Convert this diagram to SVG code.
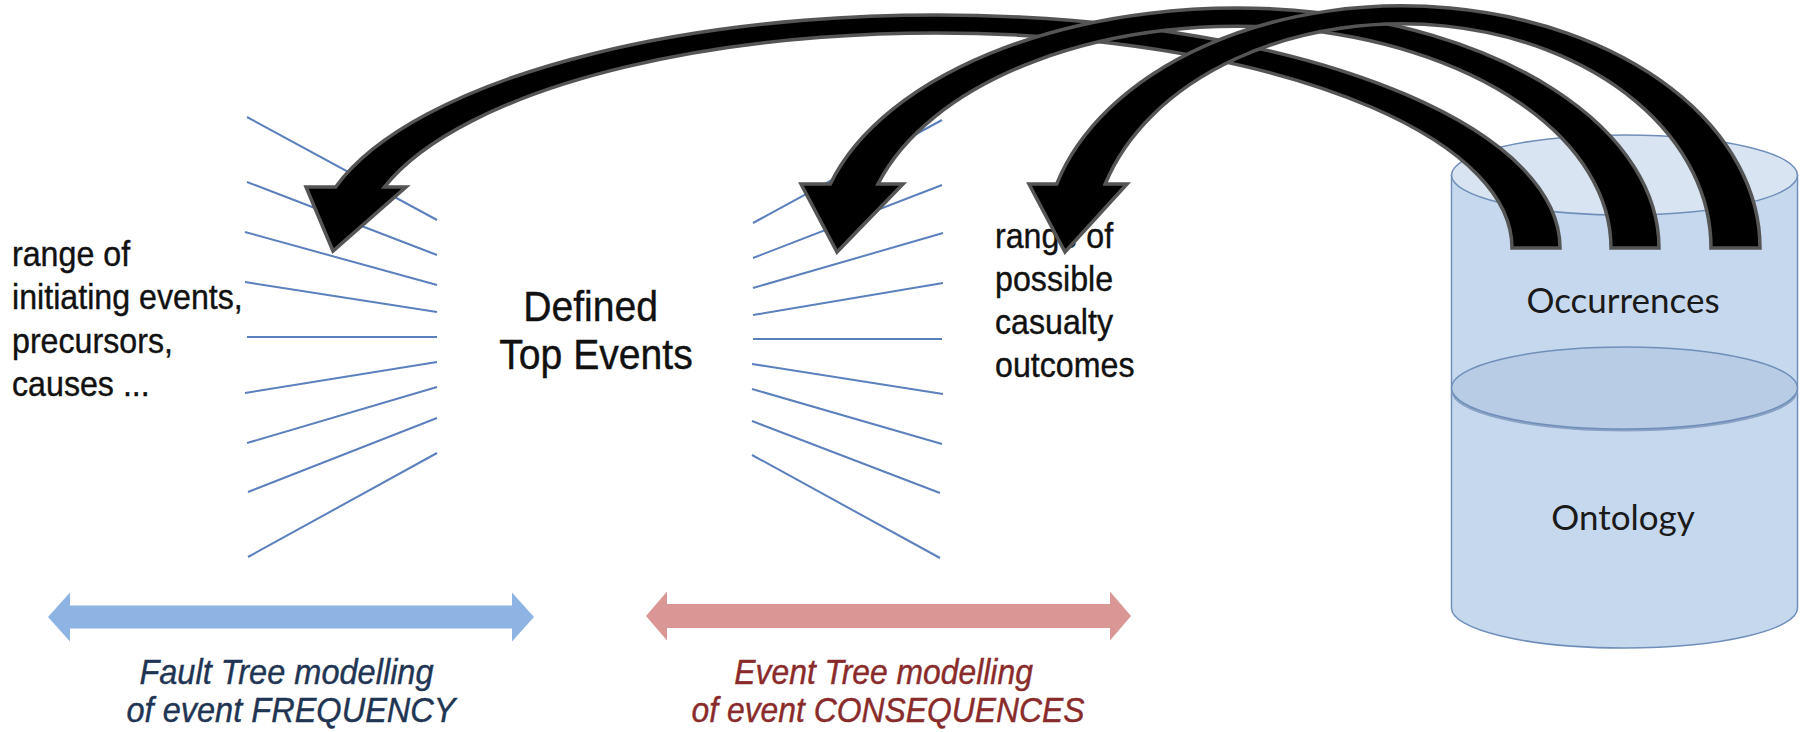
<svg xmlns="http://www.w3.org/2000/svg" width="1808" height="732" viewBox="0 0 1808 732">
  <style>
    .fan line { stroke:#5b80bd; stroke-width:2; }
    .lbl { font-family:"Liberation Sans", Arial, sans-serif; font-size:35px; fill:#111; stroke:#111; stroke-width:0.4; }
    .big { font-family:"Liberation Sans", Arial, sans-serif; font-size:43px; fill:#111; stroke:#111; stroke-width:0.4; }
    .cap { font-family:"Liberation Sans", Arial, sans-serif; font-size:35px; font-style:italic; stroke-width:0.4; }
    .db { font-family:Lato, "Open Sans", sans-serif; font-size:35px; fill:#1a1a1a; }
    .cyl { stroke:#6f8fba; stroke-width:1.5; }
    .blk { fill:#000; stroke:#555; stroke-width:3.5; stroke-linejoin:miter; }
  </style>
  <rect width="1808" height="732" fill="#fff"/>

  <g id="fault-fan" class="fan">
    <line x1="247" y1="117" x2="437" y2="220"/>
    <line x1="247" y1="182" x2="437" y2="255"/>
    <line x1="245" y1="232" x2="437" y2="285"/>
    <line x1="245" y1="282" x2="437" y2="312"/>
    <line x1="247" y1="337" x2="437" y2="337"/>
    <line x1="245" y1="393" x2="437" y2="362"/>
    <line x1="247" y1="443" x2="437" y2="387"/>
    <line x1="248" y1="492" x2="437" y2="418"/>
    <line x1="248" y1="557" x2="437" y2="453"/>
  </g>

  <g id="event-fan" class="fan">
    <line x1="753" y1="223" x2="942" y2="120"/>
    <line x1="753" y1="258" x2="942" y2="185"/>
    <line x1="753" y1="288" x2="943" y2="233"/>
    <line x1="753" y1="315" x2="943" y2="283"/>
    <line x1="753" y1="339" x2="942" y2="339"/>
    <line x1="752" y1="364" x2="943" y2="394"/>
    <line x1="752" y1="389" x2="942" y2="444"/>
    <line x1="752" y1="421" x2="940" y2="493"/>
    <line x1="752" y1="455" x2="940" y2="558"/>
  </g>

  <g id="initiating-events">
    <text class="lbl" transform="translate(12,0) scale(0.92,1)">
      <tspan x="0" y="266">range of</tspan>
      <tspan x="0" y="309">initiating events,</tspan>
      <tspan x="0" y="353">precursors,</tspan>
      <tspan x="0" y="396">causes ...</tspan>
    </text>
  </g>

  <g id="top-events">
    <text class="big" text-anchor="middle" transform="translate(596,0) scale(0.91,1)">
      <tspan x="0" y="321">Defined</tspan>
      <tspan x="0" y="369">Top Events</tspan>
    </text>
  </g>

  <g id="outcomes">
    <text class="lbl" transform="translate(995,0) scale(0.92,1)">
      <tspan x="0" y="248">range of</tspan>
      <tspan x="0" y="291">possible</tspan>
      <tspan x="0" y="334">casualty</tspan>
      <tspan x="0" y="377">outcomes</tspan>
    </text>
  </g>

  <g id="fault-tree">
    <polygon fill="#8eb4e3" points="48,617 70,592.5 70,605.5 512,605.5 512,592.5 534,617 512,641.5 512,628.5 70,628.5 70,641.5"/>
    <text class="cap" fill="#1f3553" stroke="#1f3553" text-anchor="middle" transform="translate(291,0) scale(0.93,1)">
      <tspan x="0" y="684">Fault Tree modelling</tspan>
      <tspan x="0" y="722">of event FREQUENCY</tspan>
    </text>
  </g>

  <g id="event-tree">
    <polygon fill="#d99694" points="646,616 667,591.5 667,604 1110,604 1110,591.5 1131,616 1110,640.5 1110,628 667,628 667,640.5"/>
    <text class="cap" fill="#8a2b2b" stroke="#8a2b2b" text-anchor="middle" transform="translate(888,0) scale(0.91,1)">
      <tspan x="0" y="684">Event Tree modelling</tspan>
      <tspan x="0" y="722">of event CONSEQUENCES</tspan>
    </text>
  </g>

  <g id="database">
    <path class="cyl" fill="#c6d8ee" d="M1451.5,175 L1451.5,608 A173,40 0 0 0 1797.5,608 L1797.5,175 Z"/>
    <ellipse class="cyl" fill="#d9e4f2" cx="1624.5" cy="175" rx="173" ry="40"/>
    <ellipse fill="none" stroke="#8aa3c4" stroke-width="3" cx="1624.5" cy="390" rx="172" ry="40"/>
    <ellipse class="cyl" fill="#b8cce5" cx="1624.5" cy="388" rx="173" ry="41"/>
    <text class="db" text-anchor="middle" x="1623" y="313">Occurrences</text>
    <text class="db" text-anchor="middle" x="1623" y="530">Ontology</text>
  </g>

  <g id="connectors">
    <path class="blk" d="M1560,248 A623,233 0 0 0 335.7,187 L306,187 L333,251 L406,187 L384.4,187 A575.6,215 0 0 1 1512,248 Z"/>
    <path class="blk" d="M1659,248 A422,240 0 0 0 830.3,184 L801,184 L837,252 L903,184 L878,184 A374.5,222 0 0 1 1611,248 Z"/>
    <path class="blk" d="M1760,248 A358,242 0 0 0 1056.7,184 L1029,184 L1065,252 L1127,184 L1105.2,184 A309.3,224 0 0 1 1711,248 Z"/>
  </g>
</svg>
